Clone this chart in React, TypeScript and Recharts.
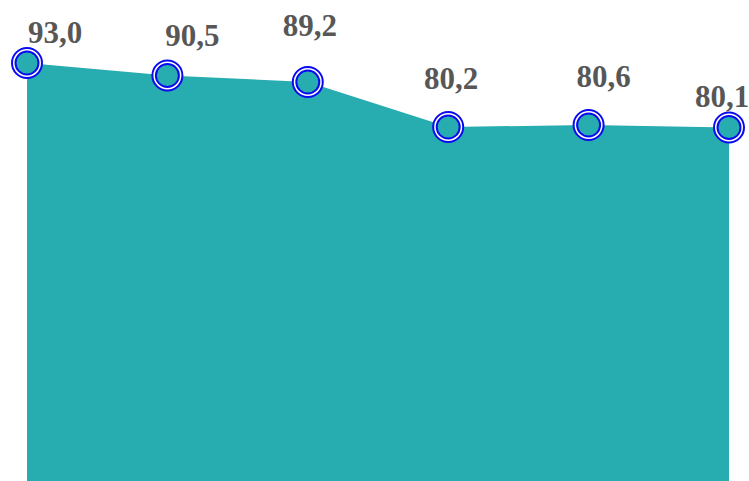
import React from 'react';
import { AreaChart, Area, XAxis, YAxis, LabelList } from 'recharts';

// categories and values
const categories = ['1', '2', '3', '4', '5', '6'];
const values = [93.0, 90.5, 89.2, 80.2, 80.6, 80.1];

// label nudges relative to each point (the reference places them unevenly)
const labelDx = [28, 25, 2, 3, 15, -7];
const labelDy = [-20, -30, -46, -38, -38, -21];

const TEAL = '#27acaf';
const BLUE = '#0a0af0';

const chartData = categories.map((c, i) => ({ name: c, value: values[i] }));

const RingDot = (props: any) => {
  const { cx, cy, index } = props;
  if (cx == null || cy == null) return null;
  return (
    <g key={`dot-${index}`}>
      <circle cx={cx} cy={cy} r={15} fill="#ffffff" stroke={BLUE} strokeWidth={2} />
      <circle cx={cx} cy={cy} r={11.5} fill={TEAL} stroke={BLUE} strokeWidth={2} />
    </g>
  );
};

const ValueLabel = (props: any) => {
  const { x, y, value, index } = props;
  const text = Number(value).toFixed(1).replace('.', ',');
  return (
    <text
      x={x + labelDx[index]}
      y={y + labelDy[index]}
      textAnchor="middle"
      fill="#575757"
      fontSize={31}
      fontWeight="bold"
      fontFamily="'Liberation Serif', 'Times New Roman', serif"
    >
      {text}
    </text>
  );
};

const App: React.FC = () => {
  return (
    <div
      style={{
        position: 'fixed',
        left: 0,
        top: 0,
        width: 749,
        height: 481,
        overflow: 'hidden',
        background: '#ffffff',
      }}
    >
      <AreaChart
        width={749}
        height={528}
        data={chartData}
        margin={{ top: 63, right: 20, left: 27, bottom: 0 }}
      >
        <XAxis dataKey="name" hide />
        <YAxis hide domain={[0, 93]} />
        <Area
          type="linear"
          dataKey="value"
          stroke="none"
          fill={TEAL}
          fillOpacity={1}
          dot={RingDot}
          activeDot={false}
          isAnimationActive={false}
        >
          <LabelList dataKey="value" content={ValueLabel} />
        </Area>
      </AreaChart>
    </div>
  );
};

export default App;
